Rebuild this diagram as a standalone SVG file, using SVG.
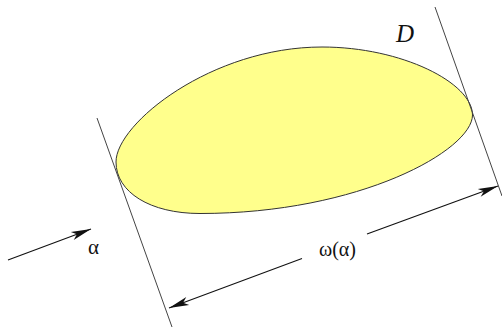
<svg xmlns="http://www.w3.org/2000/svg" width="502" height="327" viewBox="0 0 502 327">
<style>
.guide{stroke:#444;stroke-width:1;fill:none}
.dim{stroke:#111;stroke-width:1.1;fill:none}
.lbl{font-family:"Liberation Serif","Times New Roman",serif;fill:#111}
</style>
<defs>
<marker id="ah" markerUnits="userSpaceOnUse" markerWidth="24" markerHeight="12" viewBox="-21 -6 22 12" refX="0" refY="0" orient="auto">
<path d="M0,0 L-20,-4.2 L-15,0 L-20,4.2 Z" fill="#111"/>
</marker>
</defs>
<rect width="502" height="327" fill="#fff"/>
<g id="D">
<path d="M116,162 C116,123.3 212,47 322,47 C402,47 472.5,83 472.5,115 C472.5,150 360,213.5 200,213.5 C150,213.5 116,192.1 116,162 Z" fill="#ffff8c" stroke="#333" stroke-width="1"/>
<text class="lbl" x="396" y="42" font-size="25" font-style="italic">D</text>
</g>
<g id="connectors">
<line class="guide" x1="97" y1="118" x2="172" y2="327"/>
<line class="guide" x1="435" y1="7" x2="502" y2="196"/>
<line class="dim" x1="8" y1="260" x2="91" y2="229" marker-end="url(#ah)"/>
<line class="dim" x1="302" y1="258.5" x2="169" y2="308" marker-end="url(#ah)"/>
<line class="dim" x1="367" y1="234" x2="498" y2="186" marker-end="url(#ah)"/>
</g>
<g id="labels">
<text class="lbl" x="88" y="254" font-size="21">α</text>
<text class="lbl" x="337.5" y="256" font-size="20" text-anchor="middle">ω(α)</text>
</g>
</svg>
